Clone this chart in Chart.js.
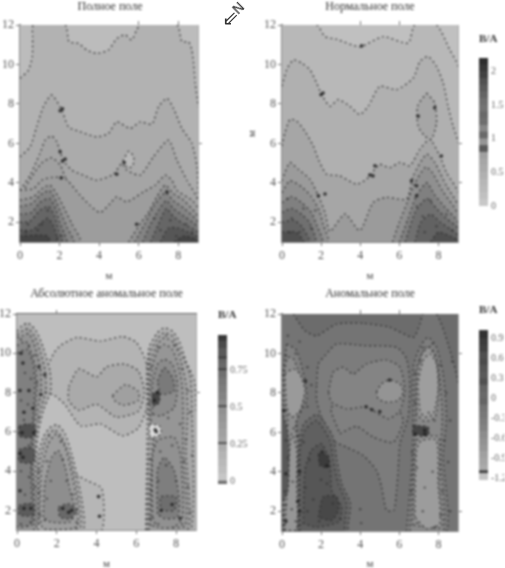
<!DOCTYPE html>
<html lang="ru"><head><meta charset="utf-8">
<style>
html,body{margin:0;padding:0;background:#fff;width:505px;height:568px;overflow:hidden}
canvas{position:absolute;filter:blur(.8px)}
.n{position:absolute;font-family:"DejaVu Sans";color:#333;filter:blur(.6px)}
</style>
<script src="https://cdn.jsdelivr.net/npm/chart.js@4/dist/chart.umd.min.js"></script>
</head><body>
<span class="n" style="left:233px;top:0;font-size:14px;transform:rotate(-45deg)">N</span>
<span class="n" style="left:222px;top:6px;font-size:20px">⇙</span>
<script>
const xTicks=[0,2,4,6,8], yTicks=[2,4,6,8,10,12];

// Полное поле
const t1=[[0,9.3],[.42,9.7],[.62,10.4],[.64,11.4],[.68,12],[2.28,12],[2.48,11.15],[2.95,11.07],[3.38,10.73],[3.88,10.56],[4.47,10.73],[4.9,11.32],[5.32,11.5],[5.65,11.24],[5.9,11.75],[6.08,12],[7.93,12],[8.19,11.15],[8.52,11.15],[8.69,10.73],[8.78,10.05],[8.86,9.04],[9,7.85],[9,1],[0,1]];
const t2=[[0,5.32],[.51,5.82],[.84,6.84],[1.18,7.85],[1.6,8.45],[2.11,7.69],[2.45,6.84],[3.04,6.59],[3.88,6.33],[4.47,6.5],[4.89,7.09],[5.57,6.75],[6.08,7.09],[6.67,6.97],[7,7.85],[7.43,8.28],[7.76,7.77],[8.19,6.75],[8.69,6],[8.95,4.8],[9,3.1],[9,1],[0,1]];
const t3=[[0,3.62],[.51,4.39],[1.01,5.49],[1.27,6.16],[1.6,6.37],[1.86,6.08],[2.19,5.15],[2.62,4.64],[3.2,4.39],[3.88,4.13],[4.73,4.44],[5.15,4.98],[5.4,4.64],[6.08,4.39],[6.75,5.32],[7.51,6.16],[7.93,5.15],[8.44,4.13],[9,3.1],[9,1],[0,1]];
const t3b=[[0,3.29],[.59,4.3],[1.1,5],[1.6,5.27],[2.03,4.9],[2.28,4.3],[2.62,3.62],[2.62,1],[0,1]];
const t3i=[[5.2,5.1],[5.5,5.6],[5.75,5.3],[5.7,4.85],[5.45,4.75]];
const t4=[[0,3.62],[.68,3.7],[1.1,4.13],[1.6,4.27],[2.28,4.22],[3.04,3.37],[3.54,2.86],[4.05,2.49],[4.56,2.95],[4.89,3.29],[5.4,3.03],[6.24,3.54],[6.84,3.88],[7.34,4.39],[7.68,4.13],[7.93,3.62],[8.69,3.12],[9,2.69],[9,1],[0,1]];
const t5a=[[0,3.12],[.68,3.29],[1.1,3.7],[1.52,3.88],[1.94,3.29],[2.28,2.61],[2.62,1.93],[3.04,1],[0,1]];
const t5b=[[5.49,1],[6.08,1.93],[6.5,2.52],[6.92,3.29],[7.34,3.88],[7.76,3.45],[8.27,3.12],[9,2.27],[9,1]];
const t6a=[[0,2.8],[.6,2.95],[1.05,3.4],[1.5,3.6],[1.85,3],[2.1,2.4],[2.4,1.7],[2.7,1],[0,1]];
const t6b=[[5.8,1],[6.3,1.9],[6.75,2.8],[7.35,3.5],[7.75,3.1],[8.3,2.7],[9,2],[9,1]];
const t7a=[[0,2.4],[.6,2.5],[1,3],[1.5,3.2],[1.8,2.7],[2,2],[2.25,1.4],[2.35,1],[0,1]];
const t7b=[[6.2,1],[6.6,1.9],[7,2.6],[7.4,3.1],[7.75,2.7],[8.3,2.3],[9,1.75],[9,1]];
const t8a=[[0,2],[.5,2.05],[1,2.6],[1.45,2.8],[1.75,2.3],[1.95,1.6],[2.1,1],[0,1]];
const t8b=[[6.6,1],[7,1.9],[7.4,2.7],[7.75,2.3],[8.3,1.9],[9,1.5],[9,1]];
const t9a=[[0,1.6],[.6,1.6],[1.1,2],[1.4,2.2],[1.7,1.8],[1.85,1],[0,1]];
const t9b=[[7.1,1],[7.5,1.7],[8,1.7],[8.5,1.5],[9,1.25],[9,1]];
const t10a=[[0,1.3],[1,1.35],[1.4,1.3],[1.5,1],[0,1]];
const t10b=[[7.8,1],[8.3,1.3],[9,1.1],[9,1]];
const tBlobs=[[2.03,7.65],[2.15,7.75],[2.03,5.57],[2.28,5.2],[2.15,5.1],[2.08,4.25],[5.27,5.03],[5.9,1.9],[4.89,4.44],[7.43,3.54]];
const tSpecks=[[.4,1.9],[.9,1.6],[.3,1.5],[1.4,2.6],[1.1,1.9],[1.9,1.2],[2.1,1.3],[8.4,1.9],[7.6,2.1],[8.7,1.5],[7.1,1.6],[7.9,1.3],[6.8,2.2]];

// Нормальное поле
const n1=[[0,12],[1.77,12],[2.2,11.41],[2.79,11.28],[3.98,10.9],[5.17,11.41],[6.45,11.08],[6.79,12],[7.9,12],[8.58,10.74],[9,9.9],[9,1],[0,1]];
const n2=[[0,8.9],[.24,9.73],[.58,10.23],[1,10.07],[1.43,9.73],[1.77,9.06],[2.03,8.47],[2.45,7.88],[2.88,8.22],[3.47,7.88],[3.98,7.46],[4.41,7.88],[5,8.89],[5.86,8.72],[6.71,9.31],[7.05,10.15],[7.47,10.4],[7.9,9.9],[8.24,9.06],[8.49,7.88],[8.75,6.87],[9,6.03],[9,1],[0,1]];
const n2i=[[7.39,8.55],[7.81,8.05],[7.9,7.04],[7.64,6.2],[7.3,6.37],[6.96,6.87],[6.93,7.88]];
const n3=[[0,5.87],[.15,6.54],[.41,7.21],[.75,7.13],[1.17,6.62],[1.6,5.87],[1.86,5.19],[2.28,4.44],[2.96,4.35],[3.81,3.93],[4.32,4.18],[4.75,4.69],[5,4.94],[5.51,4.77],[6.03,5.03],[6.54,4.86],[7.05,5.7],[7.56,6.2],[8.07,5.36],[8.41,4.52],[9,3.51],[9,1],[0,1]];
const n4=[[0,4.1],[.15,4.52],[.41,5.03],[.83,4.69],[1.43,4.18],[1.86,3.34],[2.2,2.5],[2.45,1.53],[3.22,2.42],[3.98,1.58],[4.66,3],[5.34,3.26],[6.37,3.18],[6.71,4.35],[7.39,5.45],[7.81,5.03],[8.41,3.85],[9,2.84],[9,1],[0,1]];
const n5a=[[0,3.5],[.4,4.1],[1,3.8],[1.5,3.3],[1.9,2.6],[2.1,1.9],[2.35,1],[0,1]];
const n5b=[[5.65,1],[6,2],[6.4,3],[6.8,4],[7.35,4.8],[7.7,4.5],[8.2,3.6],[9,2.4],[9,1]];
const n6a=[[0,3],[.5,3.3],[1,3],[1.5,2.5],[1.8,1.8],[2.05,1],[0,1]];
const n6b=[[6,1],[6.45,2.2],[6.85,3.3],[7.4,4],[7.8,3.4],[8.3,2.8],[9,2],[9,1]];
const n7a=[[0,2.5],[.5,2.7],[1,2.4],[1.4,2],[1.7,1],[0,1]];
const n7b=[[6.3,1],[6.8,2.5],[7.4,3.2],[7.9,2.7],[8.4,2.2],[9,1.7],[9,1]];
const n8a=[[0,2],[.6,2.1],[1,1.8],[1.4,1],[0,1]];
const n8b=[[6.8,1],[7.1,2],[7.6,2.4],[8.1,2],[9,1.35],[9,1]];
const n9a=[[0,1.5],[.7,1.5],[1.1,1],[0,1]];
const n9b=[[7.6,1],[8,1.5],[8.6,1.3],[9,1.1],[9,1]];
const nBlobs=[[2,8.47],[2.1,8.55],[1.86,3.34],[2.2,3.43],[4.75,4.86],[4.49,4.4],[4.65,4.35],[6.88,3.85],[6.62,4.1],[6.88,3.34],[4.07,10.94],[6.96,7.38],[7.81,7.8],[8.15,5.36]];
const nSpecks=[[.5,2.2],[1.1,2.7],[.3,3.2],[1.5,1.7],[.9,1.5],[1.7,2.6],[.4,1.5],[7.2,2.3],[7.9,1.8],[8.4,2.4],[6.9,2.8],[7.6,3.1],[8.7,1.6],[7.3,1.5]];

// Абсолютное аномальное поле
const aTrail=[[2.75,3.94],[3.51,3.52],[4.27,3.1],[4.27,1],[3.18,1]];
const a1=[[.9,8],[1.85,10],[2.2,10.4],[3,10.8],[4.2,10.62],[5.3,10.85],[6,10.55],[6.5,9.5],[6.6,7.5],[6.1,6.2],[5.3,5.8],[4.2,6.4],[3.2,6.3],[2.4,7.4],[1.8,7.9]];
const a2=[[2.6,8.3],[3.1,9.2],[4,8.8],[4.5,9.3],[5.4,9.45],[6.1,9.1],[6.4,8],[6.1,7.05],[5,6.75],[4,7.4],[3.1,7.1],[2.6,7.6]];
const a3=[[4.8,7.85],[5.45,8.4],[6.1,8.05],[6.1,7.6],[5.35,7.35],[4.9,7.6]];
const aL1=[[0,11.12],[.22,11.38],[.56,11.54],[.98,11.12],[1.32,10.28],[1.66,9.09],[1.69,8.08],[1.32,7.07],[1.06,5.89],[.98,4.7],[1.06,1],[0,1]];
const aL1b=[[0,10.95],[.3,11.15],[.58,11.25],[.9,10.85],[1.18,10.05],[1.42,9.1],[1.45,8.05],[1.15,7],[.95,5.9],[.88,4.6],[.95,1],[0,1]];
const aL2=[[0,10.8],[.3,10.9],[.6,11],[.85,10.5],[1.05,9.8],[1.2,9],[1.2,8],[1,7],[.85,6],[.8,4.5],[.85,1],[0,1]];
const aL2b=[[0,10.4],[.45,10.6],[.72,10],[.95,9.2],[1,8.2],[.9,7.1],[.78,6],[.74,4.2],[.8,1.3],[0,1.3]];
const aL3=[[0,10],[.5,10.2],[.8,9.5],[.9,8.5],[.85,7.2],[.75,6],[.7,4],[.75,1.5],[.5,1.2],[0,1.2]];
const aL4=[[.1,6.3],[.5,6.4],[.9,6.3],[.9,5.8],[.5,5.7],[.1,5.8]];
const aL5=[[.1,5.1],[.5,5.2],[.85,5.1],[.85,4.5],[.5,4.4],[.1,4.5]];
const aL6=[[.1,2.25],[.5,2.35],[.85,2.25],[.85,1.8],[.5,1.7],[.1,1.8]];
const aS1=[[1.06,1],[1.06,4.7],[1.32,5.72],[1.66,6.22],[2.03,6.36],[2.42,5.89],[2.75,4.87],[3,3.85],[3.26,2.5],[3.31,1]];
const aS1b=[[1.1,1.3],[1.14,4.4],[1.45,5.6],[1.85,6.1],[2.2,5.8],[2.6,4.9],[2.88,3.8],[3.12,2.5],[3.15,1.1]];
const aS2=[[1.15,1.66],[1.23,4.03],[1.57,5.38],[1.99,5.89],[2.42,5.21],[2.75,3.85],[3,2.5],[3,1.15],[1.32,1.07]];
const aS3=[[1.32,1.66],[1.4,3.35],[1.74,4.7],[2.08,5.04],[2.42,4.2],[2.67,3.01],[2.92,2],[2.67,1.41],[1.66,1.41]];
const aS4=[[2.08,2.17],[2.58,2.34],[3.04,2],[2.67,1.58],[2.16,1.66]];
const aR1=[[6.47,1],[6.52,4.03],[6.55,6.39],[6.52,8.76],[6.64,10.28],[7.06,11.04],[7.4,11.29],[7.82,11.12],[8.16,10.61],[8.5,9.6],[8.92,8.59],[9,7.07],[9,1]];
const aR1b=[[6.55,1],[6.6,4],[6.68,6.3],[6.58,8.6],[6.68,10],[7.06,10.75],[7.4,11.05],[7.85,10.85],[8.2,10.1],[8.7,8.9],[8.8,7.1],[8.75,1]];
const aR2=[[6.64,1],[6.69,3.35],[6.81,5.72],[6.64,6.73],[6.64,8.42],[6.72,9.6],[7.06,10.45],[7.4,10.78],[7.9,10.53],[8.24,9.6],[8.5,8.42],[8.58,7.07],[8.5,5.04],[8.58,1]];
const aR2b=[[6.72,1.2],[6.75,3.4],[6.9,5.6],[6.72,6.75],[6.72,8.4],[6.85,9.5],[7.1,10.2],[7.4,10.45],[7.8,10.2],[8.1,9.4],[8.3,8.4],[8.35,7],[8.35,5],[8.45,1.2]];
const aR3=[[6.81,1.66],[6.81,4.7],[7.06,5.55],[7.9,5.72],[8.24,4.7],[8.33,1.66],[7.9,1.15],[7.06,1.15]];
const aR4=[[7.06,1.83],[7.06,4.03],[7.4,4.7],[7.9,4.03],[8.16,2.5],[8.07,1.66],[7.4,1.58]];
const aR5=[[7.23,2],[7.9,2],[7.99,2.68],[7.23,2.68]];
const aU1=[[6.81,6.9],[6.81,8.42],[7.06,9.43],[7.4,9.69],[7.82,9.43],[8.07,8.42],[7.9,7.24],[7.23,6.81]];
const aU2=[[7.06,8.59],[7.4,9.26],[7.82,8.76],[7.9,8.08],[7.23,7.91]];
const aU3=[[6.81,7.91],[7.15,8.08],[7.15,7.49],[6.86,7.32]];
const aSpot=[[6.64,6.39],[7.15,6.31],[7.23,5.89],[6.72,5.72]];
const aBlobs=[[.25,5.95],[.85,5.95],[.15,4.9],[.3,4.7],[.15,3],[.35,2.1],[.7,2.1],[.15,8.1],[.6,8.1],[.3,9.5],[.35,7],[.8,7.2],[.2,10],[1.1,9.3],[1.2,7.9],[1.4,8.9],[2.3,2.1],[2.6,1.9],[2.75,2],[7,6],[7.05,8],[6.9,7.6],[7.25,2],[7.8,2.3],[8.2,1.6],[6.95,6.1],[4.1,2.7],[4.15,1.7]];
const aSpecks=[[.2,10.7],[.6,10.4],[.9,9.9],[.4,9],[.7,8.7],[1,8.5],[.2,7.6],[.55,7.4],[1.1,6.7],[.35,6.6],[.6,5.3],[.2,4],[.6,3.7],[.9,3.2],[.4,2.8],[.7,1.4],[.2,1.3],[1.45,8],[1.15,1.8],[1.1,4],[1.1,2.9],
 [1.6,5.8],[2.2,5.5],[1.5,4.5],[2.3,4.6],[1.7,3.5],[2.5,3.5],[1.5,2.6],[2.8,2.8],[1.4,1.5],[3,1.4],[6.75,3],[6.7,1.6],[6.7,4.6],[7.1,3.5],[7.5,4.3],[8,3.5],[8.4,4.5],[8.6,3.2],[8.7,1.9],[8.8,4.8],[7.2,5],[7.8,5.3],[8.3,1.3],[7.1,1.3],[7.1,10.3],[7.5,10.9],[7.9,10.4],[8.3,9.2],[8.6,8.1],[8.7,7],[6.75,9.3],[6.65,7.5],[7.6,6.7],[8.2,6.4],[8.5,5.6]];

// Аномальное поле
const m1=[[.58,12],[1.17,11.16],[1.77,10.9],[2.79,11.49],[4.15,11.53],[5.51,11.33],[6.71,10.82],[7.05,11.49],[7.22,12],[7.9,12],[8.49,10.48],[9,8.46],[9,1],[0,1],[0,12]];
const m2=[[1.77,8.46],[1.86,9.47],[2.2,9.89],[2.79,10.48],[4.15,10.4],[5.86,10.31],[6.37,9.72],[6.54,8.46],[6.45,6.77],[6.03,5.42],[5.94,4.07],[5.86,3.06],[5.72,2.05],[5.34,2.05],[5.09,3.23],[4.83,4.07],[4.15,4.83],[3.3,5.25],[2.62,5.59],[2.03,6.77],[1.77,7.62]];
const m2c=[[2.96,5.93],[3.81,6.3],[4.66,5.76],[5.69,5.5],[6.2,6.6],[5.8,7.3],[4.3,7.7],[3,7.6],[2.5,7.2]];
const m3=[[2.37,8.04],[2.62,9.05],[3.13,9.3],[3.64,8.96],[4.32,9.47],[5.34,9.67],[6.03,9.3],[6.28,8.12],[6.03,7.11],[5.43,6.69],[4.32,7.28],[3.3,7.19],[2.54,7.53]];
const m4=[[4.83,8.04],[5.09,8.46],[5.51,8.66],[6.03,8.46],[6.2,8.04],[5.94,7.62],[5.34,7.53],[4.92,7.7]];
const mA1=[[.24,10.48],[.75,10.15],[1.17,8.63],[1.26,7.62],[.75,6.6],[.92,5.09],[.75,1],[.07,1],[.07,5.09],[0,8.5]];
const mA1b=[[.1,1],[.12,5],[.3,6.6],[.1,7.5],[.12,9],[.3,9.8],[.6,9.7],[1,8.6],[1.1,7.6],[.7,6.4],[.82,5.1],[.72,3],[.7,1]];
const mA2=[[.15,8.96],[.58,9.22],[.92,8.96],[1.17,8.12],[.92,7.11],[.49,6.77],[.24,7.28]];
const mA3=[[.15,1.04],[.32,4.07],[.49,5.93],[.75,5.09],[.75,3.4],[.75,1.04]];
const mEdge=[[0,7.1],[.3,6],[.35,4.5],[.3,3],[0,2.5]];
const mB0=[[.85,1],[.85,5.2],[1.1,6.4],[1.8,6.9],[2.6,5.8],[2.8,4.6],[3.05,3.4],[3.5,2.4],[3.4,1.5],[3.3,1]];
const mB1=[[.92,1],[.92,5.09],[1.17,6.1],[1.77,6.6],[2.45,5.59],[2.62,4.58],[2.88,3.4],[3.3,2.39],[3.22,1.54],[3.13,1]];
const mB2=[[1.09,1.38],[1.17,4.07],[1.51,5.09],[2.03,5.42],[2.45,4.41],[2.54,3.06],[3.05,2.2],[2.88,1.46],[1.77,1.2]];
const mB3=[[1.86,1.7],[2.11,2.73],[2.79,2.73],[2.88,2.05],[2.54,1.54]];
const mB4=[[1.86,4.92],[2.37,4.83],[2.37,4.24],[1.94,4.32]];
const mE1=[[6.37,1],[6.62,4.07],[6.71,6.1],[6.71,9.3],[7.05,10.31],[7.47,10.82],[7.9,10.31],[8.24,8.96],[8.41,6.77],[8.24,4.75],[8.41,1]];
const mE1b=[[6.55,1],[6.72,4.2],[6.85,6.1],[6.85,9.1],[7.15,10],[7.47,10.4],[7.8,10],[8.05,8.9],[8.2,6.8],[8.1,4.75],[8.25,1]];
const mE2b=[[6.7,1.3],[6.8,5.3],[7.05,5.75],[8,5.75],[8.05,3.4],[8.15,1.2]];
const mE2=[[6.79,1.71],[6.88,5.09],[7.13,5.59],[7.9,5.59],[7.98,3.4],[8.07,1.38],[7.39,1.12]];
const mE3b=[[6.9,6.9],[6.88,8.5],[7.12,9.9],[7.5,10.3],[7.85,9.8],[8.02,8.4],[7.85,6.8],[7.3,6.55]];
const mE3=[[7.05,7.11],[6.96,8.46],[7.22,9.64],[7.56,9.98],[7.9,9.47],[7.98,8.12],[7.73,6.94],[7.3,6.77]];
const mE4=[[6.71,6.35],[7.47,6.27],[7.47,5.85],[6.71,5.93]];
const mBlobs=[[.1,7.1],[.2,3.9],[.9,4],[.8,2.5],[.9,2],[.2,1.5],[2.05,5],[2.3,4.3],[4.3,7.3],[4.6,7.15],[5,7.05],[7.3,6.1],[7.3,5.9],[1.2,8.6],[6.8,5.9],[5.5,8.65]];
const mSpecks=[[.3,10.9],[.9,10.6],[.2,9.9],[.7,10],[1.3,9.3],[1.5,8.4],[1.3,7.3],[.6,6.2],[.2,5.6],[.8,5.8],[.3,4.7],[.55,3.5],[.15,3],[.5,2.1],[.2,2.3],[.7,1.5],[1.1,5.5],[1.4,4.6],[1.2,3.2],[1.6,2.6],[1.3,2],[2,3.6],[2.3,3.4],[2.6,2.4],[1.9,1.5],[3,1.6],[4,2.1],[4.05,1.4],
 [6.6,3],[6.65,5],[6.9,4.2],[7.3,3.2],[7.7,4],[8.2,3],[8.5,4.5],[8.6,2],[8.1,1.8],[7.2,2],[6.9,1.4],[7.8,1.2],[6.8,7.5],[6.8,9],[7.2,10.3],[7.7,10.5],[8.1,9.4],[8.4,8],[8.6,6.6],[8.3,5.6],[8.7,9.6],[7.5,7],[7.8,6.6],[7.1,9.6]];

// Шкалы
const cb2Levels=[0,.1,.2,.3,.4,.5,.6,.7,.8,.9,1,1.1,1.2,1.3,1.4,1.5,1.6,1.7,1.8,1.9,2,2.1,2.2];
const cb2Ticks=[0,.5,1,1.5,2];
const cb3Levels=[-.02,0,.05,.1,.15,.2,.25,.26,.3,.35,.4,.45,.5,.51,.55,.6,.65,.7,.75,.76,.8,.83,.84,.9,.95,.99];
const cb3Ticks=[0,.25,.5,.75];
const cb4Levels=[-1.23,-1.13,-1.09,-1,-.9,-.8,-.7,-.6,-.5,-.4,-.3,-.2,-.1,0,.1,.2,.3,.4,.5,.6,.7,.8,.9,1,1.03];
const cb4Ticks=[-1.2,-.9,-.6,-.3,0,.3,.6,.9];

const g=v=>`rgb(${v},${v},${v})`;
const cb2Greys=[200,192,186,182,176,170,166,160,90,150,105,135,110,105,115,110,100,90,80,65,55,45];
const cb3Greys=[110,198,190,185,180,172,60,165,160,155,150,145,60,138,130,125,120,112,50,105,100,50,90,75,55];
const cb4Greys=[195,60,170,165,160,150,145,140,130,125,120,115,100,105,100,80,90,85,75,80,65,60,50,60];

const font={family:'"Liberation Serif"',size:12};
const frameEdge=(p,q)=>(p.x===q.x&&(p.x<=0||p.x>=9))||(p.y===q.y&&(p.y<=1||p.y>=12));
const closed=poly=>poly.concat([poly[0]]).map(([x,y])=>({x,y}));
function fillOf(poly,grey){
  return {data:closed(poly),showLine:true,fill:'shape',backgroundColor:g(grey),borderColor:g(grey),borderWidth:0,tension:.22,pointRadius:0};
}
function lineOf(poly){
  return {data:closed(poly),showLine:true,fill:false,borderColor:'rgba(40,40,40,.78)',borderWidth:1.4,borderDash:[2,3],tension:.22,pointRadius:0,
    segment:{borderColor:c=>frameEdge(c.p0.parsed,c.p1.parsed)?'rgba(0,0,0,0)':undefined}};
}
function blobs(list,r,col){return {data:list.map(([x,y])=>({x,y})),showLine:false,pointRadius:r,pointBackgroundColor:col,pointBorderWidth:0}}
const setTicks=l=>s=>{s.ticks=l.map(v=>({value:v}))};

function panel(o){
  const c=document.createElement('canvas');
  c.width=o.w;c.height=o.h;c.style.left=o.left+'px';c.style.top=o.top+'px';document.body.appendChild(c);
  const ds=[fillOf([[0,1],[9,1],[9,12],[0,12]],o.base),...o.layers.flatMap(l=>[fillOf(l[0],l[1]),lineOf(l[0])]),blobs(o.specks,1.2,'rgba(40,40,40,.6)'),blobs(o.dots,1.8,'rgba(30,30,30,.85)')].reverse();
  const tk={font,color:'#555',autoSkip:false,maxRotation:0};
  const gr={drawOnChartArea:false,tickLength:4,color:'#777',tickWidth:1};
  new Chart(c,{type:'scatter',data:{datasets:ds},options:{animation:false,responsive:false,events:[],
    layout:{padding:0},
    plugins:{legend:{display:false},tooltip:{enabled:false},
      title:{display:true,text:o.title,color:'#333',font:{...font,weight:'normal',lineHeight:1},padding:o.tp}},
    scales:{
      x:{type:'linear',position:'bottom',min:0,max:9,afterBuildTicks:setTicks(xTicks),afterFit:s=>{s.height=o.bottom},
        grid:gr,border:{color:'#888',width:2},ticks:{...tk,padding:3},
        title:{display:true,text:'м',color:'#444',font:{...font,size:11},padding:{top:0,bottom:1}}},
      y:{type:'linear',position:'left',min:1,max:12,afterBuildTicks:setTicks(yTicks),afterFit:s=>{s.width=o.l},
        grid:gr,border:{color:'#888',width:2},ticks:{...tk,padding:2},
        title:{display:!!o.ytitle,text:'м',color:'#444',font:{...font,size:11},padding:0}},
      x2:{type:'linear',axis:'x',position:'top',min:0,max:9,afterBuildTicks:setTicks(o.topTicks),afterFit:s=>{s.height=4},
        grid:gr,border:{color:o.topColor||'#bbb',width:o.topW||1},ticks:{callback:()=>'',padding:0,autoSkip:false}},
      y2:{type:'linear',axis:'y',position:'right',min:1,max:12,afterBuildTicks:setTicks(o.rightTicks),afterFit:s=>{s.width=o.r},
        grid:gr,border:{color:'#aaa',width:1},ticks:{callback:()=>'',padding:0,autoSkip:false}}
    }}});
}
function colorbar(o){
  const c=document.createElement('canvas');
  c.width=o.w;c.height=o.h;c.style.left=o.left+'px';c.style.top=o.top+'px';document.body.appendChild(c);
  const ds=o.greys.map((v,i)=>({data:[[o.levels[i],o.levels[i+1]]],backgroundColor:g(v),grouped:false,barPercentage:1,categoryPercentage:1,borderWidth:0}));
  new Chart(c,{type:'bar',data:{labels:[''],datasets:ds},options:{animation:false,responsive:false,events:[],
    layout:{padding:{left:o.pad,top:0,right:0,bottom:6}},
    plugins:{legend:{display:false},tooltip:{enabled:false},
      title:{display:true,text:'В/А',align:'start',color:'#333',font:{...font,size:11,lineHeight:1,weight:'bold'},padding:{top:o.pt,bottom:17-o.pt}}},
    scales:{x:{display:false},
      y:{position:'right',min:o.levels[0],max:o.levels[o.levels.length-1],afterBuildTicks:setTicks(o.ticks),afterFit:s=>{s.width=o.axis},
        grid:{display:false,drawTicks:false},border:{display:false},ticks:{font:{...font,size:10},color:'#666',padding:3,autoSkip:false,callback:v=>String(v)}}}}});
}

panel({left:0,top:0,w:220,h:284,l:20,r:22,bottom:42,title:'Полное поле',tp:{top:1,bottom:8},base:188,
 layers:[[t1,178],[t2,171],[t3,165],[t3i,185],[t3b,160],[t4,157],[t5a,146],[t5b,146],[t6a,132],[t6b,132],[t7a,118],[t7b,118],[t8a,102],[t8b,102],[t9a,86],[t9b,86],[t10a,68],[t10b,68]],
 dots:tBlobs,specks:tSpecks,topTicks:[6,8],rightTicks:[6]});
panel({left:246,top:0,w:248,h:284,l:36,r:36,bottom:42,ytitle:true,title:'Нормальное поле',tp:{top:1,bottom:8},base:192,
 layers:[[n1,184],[n2,176],[n3,166],[n2i,166],[n4,155],[n5a,144],[n5b,144],[n6a,128],[n6b,128],[n7a,112],[n7b,112],[n8a,98],[n8b,98],[n9a,80],[n9b,80]],
 dots:nBlobs,specks:nSpecks,topTicks:[4,6],rightTicks:[4,6]});
panel({left:0,top:284,w:213,h:288,l:17,r:17,bottom:42,title:'Абсолютное аномальное поле',tp:{top:4,bottom:10},base:190,topColor:'#666',topW:2,
 layers:[[aTrail,182],[a1,180],[a2,170],[a3,160],[aR1,176],[aR1b,166],[aR2,158],[aR2b,150],[aU1,140],[aU2,122],[aU3,72],[aR3,145],[aR4,126],[aR5,110],[aSpot,220],[aL1,170],[aL1b,158],[aL2,148],[aL2b,138],[aL3,128],[aL4,80],[aL5,88],[aL6,92],[aS1,174],[aS1b,165],[aS2,158],[aS3,142],[aS4,105]],
 dots:aBlobs,specks:aSpecks,topTicks:[2],rightTicks:[8]});
panel({left:246,top:284,w:248,h:288,l:36,r:36,bottom:41,title:'Аномальное поле',tp:{top:4,bottom:10},base:108,
 layers:[[m1,116],[m2,124],[m2c,128],[m3,132],[m4,148],[mA1,128],[mA1b,140],[mA2,154],[mA3,150],[mEdge,88],[mB0,104],[mB1,96],[mB2,86],[mB3,72],[mB4,60],[mE1,126],[mE1b,136],[mE2b,146],[mE2,156],[mE3b,148],[mE3,158],[mE4,70]],
 dots:mBlobs,specks:mSpecks,topTicks:[4,6],rightTicks:[2,10]});

colorbar({left:473,top:30,w:32,h:185,pad:6,axis:17,pt:4,levels:cb2Levels,greys:cb2Greys,ticks:cb2Ticks});
colorbar({left:210,top:307,w:42,h:186,pad:8,axis:25,pt:3,levels:cb3Levels,greys:cb3Greys,ticks:cb3Ticks});
colorbar({left:472,top:302,w:33,h:187,pad:7,axis:17,pt:3,levels:cb4Levels,greys:cb4Greys,ticks:cb4Ticks});
</script>
</body></html>
